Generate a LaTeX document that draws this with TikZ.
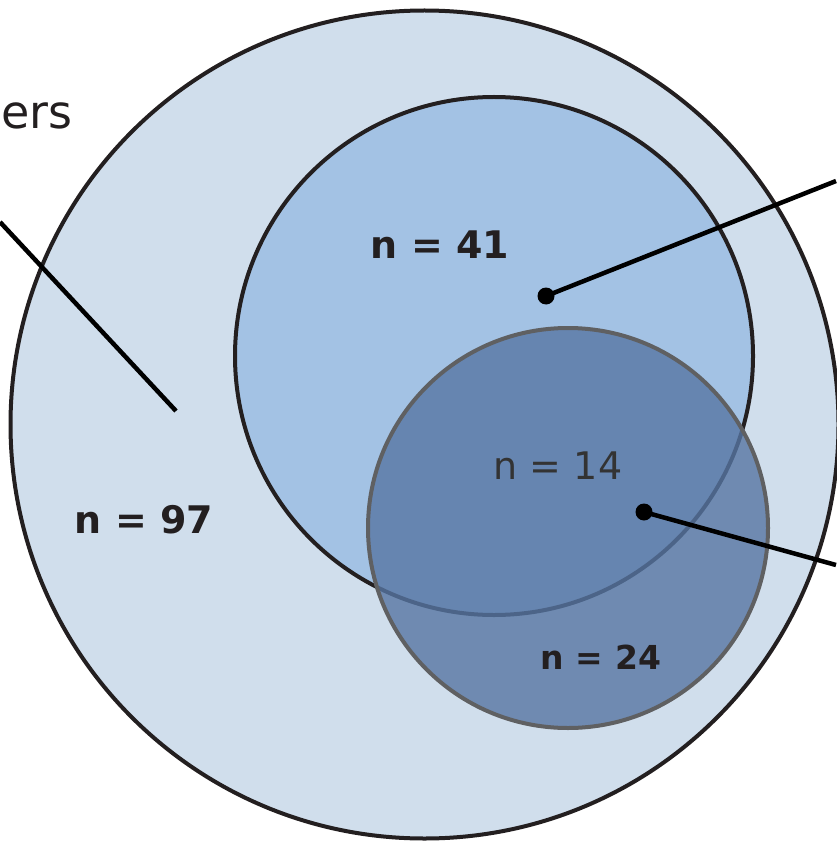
\documentclass[tikz,border=0pt]{standalone}
\usepackage{fontspec}
\setmainfont{DejaVu Sans}
\definecolor{outerfill}{HTML}{D0DEEC}
\definecolor{midfill}{HTML}{A3C2E4}
\definecolor{innerfill}{RGB}{87,118,163}
\definecolor{ink}{HTML}{231F20}
\definecolor{greyline}{HTML}{5F6062}
\begin{document}
\begin{tikzpicture}[x=1pt,y=-1pt,
  ring/.style={circle,draw=ink,line width=4pt,inner sep=0pt},
  count/.style={font=\fontsize{38}{40}\selectfont\bfseries,text=ink,inner sep=0pt},
  countlight/.style={font=\fontsize{38}{40}\selectfont,text=ink,inner sep=0pt},
  leader/.style={draw=black,line width=4.5pt},
  dot/.style={fill=black}]
\useasboundingbox (0,0) rectangle (836,842);
% circles
\node[ring,fill=outerfill,minimum size=828pt] (outer) at (424.5,424.5) {};
\node[ring,fill=midfill,minimum size=518pt] (mid) at (494,356) {};
\node[circle,inner sep=0pt,minimum size=400pt,fill=innerfill,fill opacity=0.8,draw=greyline,line width=4pt] (inner) at (568,528) {};
% labels
\node[anchor=base west,font=\fontsize{46}{48}\selectfont,text=ink,inner sep=0pt] (lbl) at (1,129) {ers};
\node[count] (n41) at (440,245) {n = 41};
\node[count] (n97) at (144,520) {n = 97};
\node[count,font=\fontsize{33}{35}\selectfont\bfseries] (n24) at (601,657) {n = 24};
\node[countlight,text=black!80] (n14) at (558,466) {n = 14};
% leader lines
\coordinate (l1a) at (0,222);
\coordinate (l1b) at (176,411);
\coordinate (d2) at (546,296);
\coordinate (e2) at (836,181);
\coordinate (d3) at (644,512);
\coordinate (e3) at (836,565);
\draw[leader] (l1a) -- (l1b);
\draw[leader] (d2) -- (e2);
\draw[leader] (d3) -- (e3);
\fill[dot] (d2) circle (8.5pt);
\fill[dot] (d3) circle (8.5pt);
\end{tikzpicture}
\end{document}
